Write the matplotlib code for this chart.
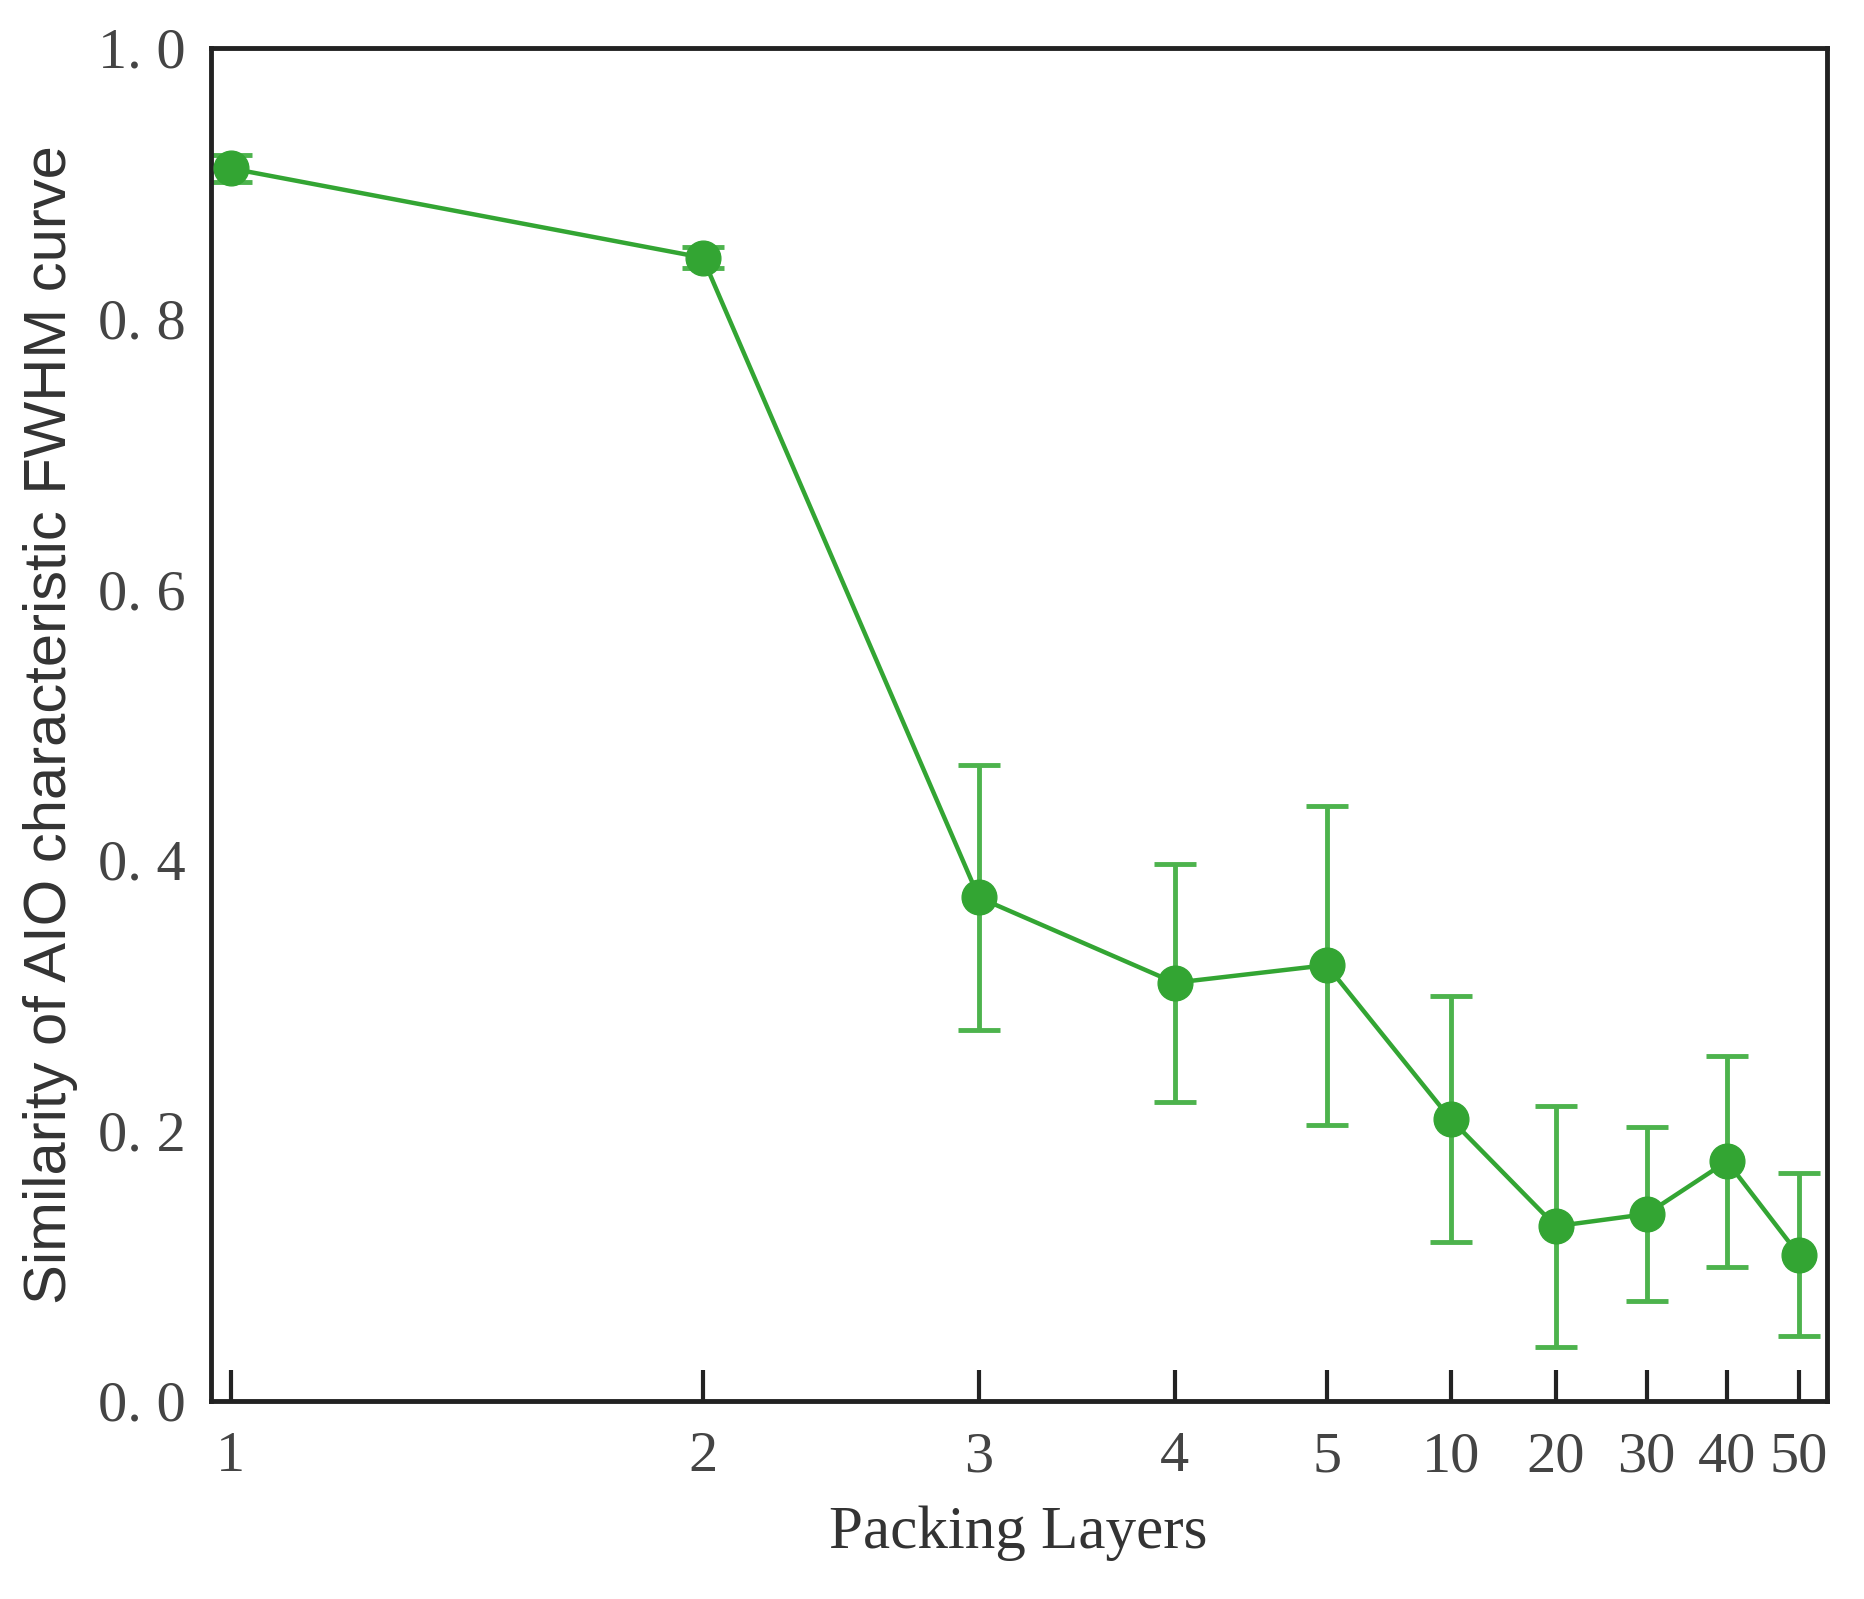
import numpy as np
import matplotlib.pyplot as plt

# Packing layers and similarity (mean +/- error)
layer_labels = ['1', '2', '3', '4', '5', '10', '20', '30', '40', '50']
similarity = [0.911, 0.845, 0.372, 0.309, 0.322, 0.208, 0.129, 0.138, 0.177, 0.108]
sim_err = [0.010, 0.008, 0.098, 0.088, 0.118, 0.091, 0.089, 0.064, 0.078, 0.060]

GREEN = '#33a533'
ERR_GREEN = '#4db34d'

plt.rcParams['font.family'] = ['Liberation Serif', 'DejaVu Serif']

fig = plt.figure(figsize=(18.64, 15.99), dpi=100)
ax = fig.add_axes([0.113, 0.124, 0.867, 0.846])

# x positions are the index of each layer count, drawn on a log axis
pos = np.arange(1, len(layer_labels) + 1)
ax.errorbar(pos, similarity, yerr=sim_err, fmt='none', ecolor=ERR_GREEN,
            elinewidth=3.5, capsize=15, capthick=3.5, zorder=2)
ax.plot(pos, similarity, color=GREEN, lw=3.2, marker='o', ms=25,
        mfc=GREEN, mec=GREEN, zorder=3)

ax.set_xscale('log')
ax.set_xlim(0.971, 10.42)
ax.set_ylim(0, 1.0)
ax.set_xticks(pos)
ax.set_xticklabels(layer_labels)
ax.xaxis.set_minor_locator(plt.NullLocator())
ax.set_yticks([0.0, 0.2, 0.4, 0.6, 0.8, 1.0])
ax.set_yticklabels(['0. 0', '0. 2', '0. 4', '0. 6', '0. 8', '1. 0'])

ax.tick_params(direction='in', length=22, width=3, labelsize=42,
               colors='#222222', labelcolor='#444444', pad=22)
ax.tick_params(axis='y', length=0, pad=18)
for s in ax.spines.values():
    s.set_linewidth(3.5)
    s.set_color('#222222')

ax.set_xlabel('Packing Layers', fontsize=44, color='#333333', labelpad=16)
ax.set_ylabel('Similarity of AIO characteristic FWHM curve', fontsize=43,
              color='#333333', family=['Liberation Sans', 'DejaVu Sans'], labelpad=14)

fig.savefig('out.png', dpi=100, facecolor='white')
